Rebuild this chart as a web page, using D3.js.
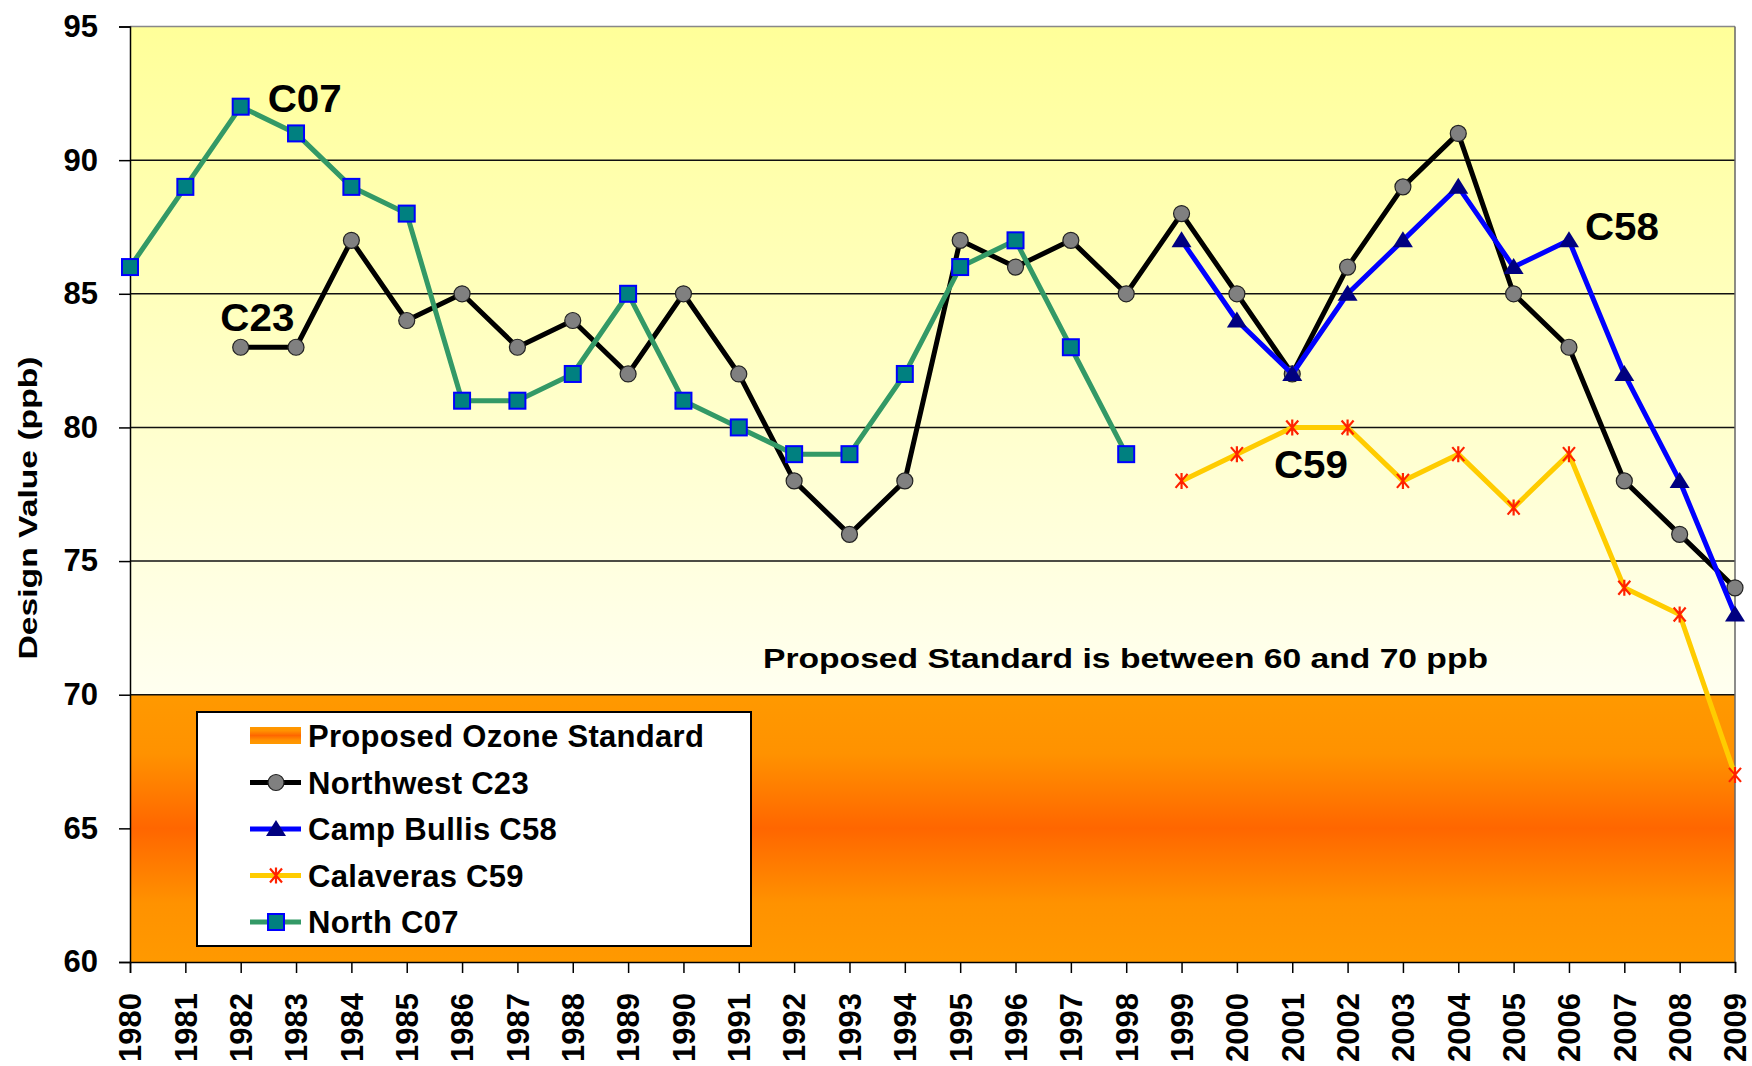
<!DOCTYPE html>
<html>
<head>
<meta charset="utf-8">
<script src="https://cdn.jsdelivr.net/npm/d3@7"></script>
<style>
  html, body { margin: 0; padding: 0; background: #ffffff; }
  svg text { font-family: "Liberation Sans", Arial, sans-serif; font-weight: bold; fill: #000; }
</style>
</head>
<body>
<svg id="chart" width="1752" height="1066"></svg>
<script>
// ---- data ----
const years = ["1980","1981","1982","1983","1984","1985","1986","1987","1988","1989",
  "1990","1991","1992","1993","1994","1995","1996","1997","1998","1999",
  "2000","2001","2002","2003","2004","2005","2006","2007","2008","2009"];
const northwestC23 = [null,null,83,83,87,84,85,83,84,82,85,82,78,76,78,87,86,87,85,88,85,82,86,89,91,85,83,78,76,74];
const campBullisC58 = [null,null,null,null,null,null,null,null,null,null,null,null,null,null,null,null,null,null,null,87,84,82,85,87,89,86,87,82,78,73];
const calaverasC59 = [null,null,null,null,null,null,null,null,null,null,null,null,null,null,null,null,null,null,null,78,79,80,80,78,79,77,79,74,73,67];
const northC07 = [86,89,92,91,89,88,81,81,82,85,81,80,79,79,82,86,87,83,79,null,null,null,null,null,null,null,null,null,null,null];
const yTicks = [60,65,70,75,80,85,90,95];
const gridValues = [75,80,85,90];
const standardBand = [60,70];
const legendLabels = ["Proposed Ozone Standard","Northwest C23","Camp Bullis C58","Calaveras C59","North C07"];
const seriesLabels = ["C07","C23","C58","C59"];
const labelYears = ["1982","1981","2006","2000"];
const labelValues = [91.8,83.6,87.0,78.1];

// ---- layout ----
const svg = d3.select("#chart");
const pL = 130, pR = 1735, pT = 26.5, pB = 962;
const x = d3.scalePoint().domain(years).range([pL, pR]);
const y = d3.scaleLinear().domain([60, 95]).range([pB, pT]);

const defs = svg.append("defs");
const gUp = defs.append("linearGradient").attr("id","gUp").attr("x1",0).attr("y1",0).attr("x2",0).attr("y2",1);
gUp.append("stop").attr("offset","0%").attr("stop-color","#ffff99");
gUp.append("stop").attr("offset","100%").attr("stop-color","#fffff0");
const gLow = defs.append("linearGradient").attr("id","gLow").attr("x1",0).attr("y1",0).attr("x2",0).attr("y2",1);
[[0,"#ff9900"],[0.22,"#ff9200"],[0.5,"#ff6600"],[0.78,"#ff9200"],[1,"#ff9900"]].forEach(s=>
  gLow.append("stop").attr("offset",s[0]).attr("stop-color",s[1]));

// backgrounds
svg.append("rect").attr("x",pL).attr("y",y(95)).attr("width",pR-pL).attr("height",y(70)-y(95)).attr("fill","url(#gUp)");
svg.append("rect").attr("x",pL).attr("y",y(standardBand[1])).attr("width",pR-pL)
  .attr("height",y(standardBand[0])-y(standardBand[1])).attr("fill","url(#gLow)");

// gridlines
svg.append("g").selectAll("line").data(gridValues.concat([70])).join("line")
  .attr("x1",pL).attr("x2",pR).attr("y1",d=>y(d)).attr("y2",d=>y(d))
  .attr("stroke","#111").attr("stroke-width",1.5);
svg.append("line").attr("x1",pL).attr("x2",pR).attr("y1",y(95)).attr("y2",y(95)).attr("stroke","#888").attr("stroke-width",1.5);
svg.append("line").attr("x1",pR).attr("x2",pR).attr("y1",y(95)).attr("y2",y(60)).attr("stroke","#666").attr("stroke-width",1.5);

// axes
const yAxis = svg.append("g").attr("transform",`translate(${pL},0)`)
  .call(d3.axisLeft(y).tickValues(yTicks).tickSize(11).tickPadding(21).tickFormat(d3.format("d")));
yAxis.select(".domain").attr("stroke","#000").attr("stroke-width",1.5);
yAxis.selectAll(".tick line").attr("stroke","#000").attr("stroke-width",1.5);
yAxis.selectAll("text").attr("font-size",31).style("font-family",'"Liberation Sans", Arial, sans-serif').style("font-weight","bold").attr("fill","#000");

const xAxis = svg.append("g").attr("transform",`translate(0,${pB})`)
  .call(d3.axisBottom(x).tickSize(11).tickPadding(0));
xAxis.select(".domain").attr("stroke","#000").attr("stroke-width",1.5);
xAxis.selectAll(".tick line").attr("stroke","#000").attr("stroke-width",1.5);
xAxis.selectAll("text").attr("font-size",31).style("font-family",'"Liberation Sans", Arial, sans-serif').style("font-weight","bold").attr("fill","#000")
  .attr("transform","rotate(-90)").attr("text-anchor","end").attr("x",-31).attr("y",0).attr("dy","0.35em");

// y title
svg.append("text").attr("transform","translate(37,508) rotate(-90)").attr("text-anchor","middle")
  .attr("font-size",25).attr("textLength",303).attr("lengthAdjust","spacingAndGlyphs").text("Design Value (ppb)");

// lines
const series = [
  {data:northwestC23, color:"#000000", width:5, marker:"circle"},
  {data:campBullisC58, color:"#0000ff", width:5, marker:"triangle"},
  {data:calaverasC59, color:"#ffcc00", width:5, marker:"star"},
  {data:northC07, color:"#339966", width:5, marker:"square"}
];
const line = d3.line().defined(d=>d.v!==null).x(d=>x(d.year)).y(d=>y(d.v));

function drawMarker(g, type) {
  if (type==="circle") {
    g.append("circle").attr("r",8).attr("fill","#808080").attr("stroke","#222").attr("stroke-width",1.2);
  } else if (type==="triangle") {
    g.append("path").attr("d","M0,-9L10,7L-10,7Z").attr("fill","#000080");
  } else if (type==="square") {
    g.append("rect").attr("x",-8).attr("y",-8).attr("width",16).attr("height",16).attr("fill","#008080").attr("stroke","#0000ff").attr("stroke-width",2);
  } else if (type==="star") {
    g.append("path").attr("d","M-6,-7L6,7M6,-7L-6,7M0,-8L0,8").attr("stroke","#ff2200").attr("stroke-width",2.2).attr("fill","none");
  }
}

series.forEach(s=>{
  const pts = years.map((yr,i)=>({year:yr, v:s.data[i]}));
  svg.append("path").datum(pts).attr("d",line).attr("fill","none")
    .attr("stroke",s.color).attr("stroke-width",s.width).attr("stroke-linejoin","round");
  const g = svg.append("g");
  pts.filter(d=>d.v!==null).forEach(d=>{
    const m = g.append("g").attr("transform",`translate(${x(d.year)},${y(d.v)})`);
    drawMarker(m, s.marker);
  });
});

// series labels
const labelDx = [27, 35, 16, 37];
seriesLabels.forEach((t,i)=>{
  svg.append("text").attr("x",x(labelYears[i]) + labelDx[i])
    .attr("y",y(labelValues[i])).attr("font-size",38).attr("textLength",74)
    .attr("lengthAdjust","spacingAndGlyphs").text(t);
});

// annotation
svg.append("text").attr("x",763).attr("y",668).attr("font-size",27)
  .attr("textLength",725).attr("lengthAdjust","spacingAndGlyphs").text("Proposed Standard is between 60 and 70 ppb");

// legend
const lg = svg.append("g");
lg.append("rect").attr("x",197).attr("y",712).attr("width",554).attr("height",234).attr("fill","#fff").attr("stroke","#000").attr("stroke-width",2);
const rowY = i => 747 + i*46.5;
lg.append("rect").attr("x",250).attr("y",rowY(0)-20).attr("width",51).attr("height",17).attr("fill","url(#gLow)");
series.forEach((s,i)=>{
  const cy = rowY(i+1)-11;
  lg.append("line").attr("x1",250).attr("x2",301).attr("y1",cy).attr("y2",cy).attr("stroke",s.color).attr("stroke-width",5);
  const m = lg.append("g").attr("transform",`translate(276,${cy})`);
  drawMarker(m, s.marker);
});
legendLabels.forEach((t,i)=>{
  lg.append("text").attr("x",308).attr("y",rowY(i)).attr("font-size",31).attr("letter-spacing",0.3).text(t);
});
</script>
</body>
</html>
